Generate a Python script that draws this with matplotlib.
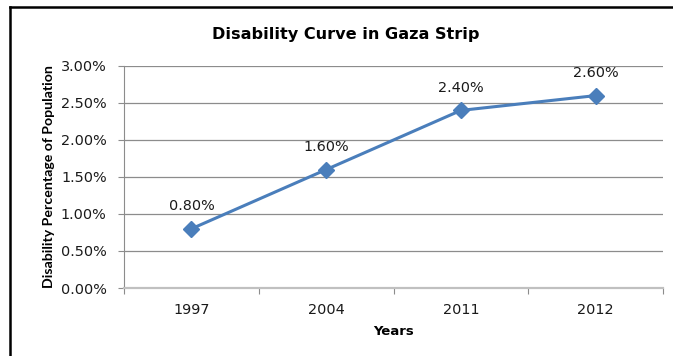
import matplotlib.pyplot as plt
from matplotlib.lines import Line2D
from matplotlib.ticker import FuncFormatter, NullFormatter, FixedLocator

# Data
years = ["1997", "2004", "2011", "2012"]
disability = [0.008, 0.016, 0.024, 0.026]
labels = ["0.80%", "1.60%", "2.40%", "2.60%"]
yticks = [0.0, 0.005, 0.010, 0.015, 0.020, 0.025, 0.030]

plt.rcParams['font.family'] = ['DejaVu Sans']

fig = plt.figure(figsize=(6.73, 3.56), dpi=100, facecolor='white')
ax = fig.add_axes([124 / 673, 1 - 288 / 356, (663 - 124) / 673, (288 - 66) / 356])

x = list(range(len(years)))
ax.plot(x, disability, color='#4A7EBB', linewidth=2.2, marker='D', markersize=8,
        markerfacecolor='#4A7EBB', markeredgecolor='#4A7EBB', zorder=3)
for xi, yi, lab in zip(x, disability, labels):
    ax.annotate(lab, (xi, yi), xytext=(0, 13.5), textcoords='offset points',
                ha='center', va='baseline', fontsize=10.4, color='#1a1a1a')

ax.set_xlim(-0.5, len(years) - 0.5)
ax.set_ylim(0, 0.03)
ax.set_yticks(yticks)
ax.yaxis.set_major_formatter(FuncFormatter(lambda v, p: f"{v * 100:.2f}%"))
ax.grid(axis='y', color='#8C8C8C', linewidth=0.9)
ax.set_axisbelow(True)

# category boundary ticks on x axis, labels centred in each category
ax.xaxis.set_major_locator(FixedLocator([i - 0.5 for i in range(len(years) + 1)]))
ax.xaxis.set_major_formatter(NullFormatter())
ax.xaxis.set_minor_locator(FixedLocator(x))
ax.set_xticklabels(years, minor=True)
ax.tick_params(axis='x', which='major', length=4, color='#8C8C8C')
ax.tick_params(axis='x', which='minor', length=0, labelsize=10.4, pad=10.5, labelcolor='#1a1a1a')
ax.tick_params(axis='y', length=4.5, color='#8C8C8C', labelsize=10.4, pad=8, labelcolor='#1a1a1a')

for s in ['top', 'right']:
    ax.spines[s].set_visible(False)
ax.spines['left'].set_color('#8C8C8C')
ax.spines['bottom'].set_color('#C0C0C0')
ax.spines['bottom'].set_linewidth(1.6)

ax.set_xlabel("Years", fontsize=9.5, fontweight='bold', labelpad=6)
ax.set_ylabel("Disability Percentage of Population", fontsize=10.2, fontweight='bold',
              family=['Lato', 'DejaVu Sans'], labelpad=4)
fig.text(346 / 673, 1 - 34 / 356, "Disability Curve in Gaza Strip", ha='center', va='center',
         fontsize=11.6, fontweight='bold', color='black')

# outer frame (top and left only, as in the cropped reference)
fig.add_artist(Line2D([10 / 673, 1], [1 - 7 / 356, 1 - 7 / 356], transform=fig.transFigure,
                      color='black', linewidth=1.8))
fig.add_artist(Line2D([10 / 673, 10 / 673], [0, 1 - 7 / 356], transform=fig.transFigure,
                      color='black', linewidth=1.8))

fig.savefig('out.png', dpi=100)
